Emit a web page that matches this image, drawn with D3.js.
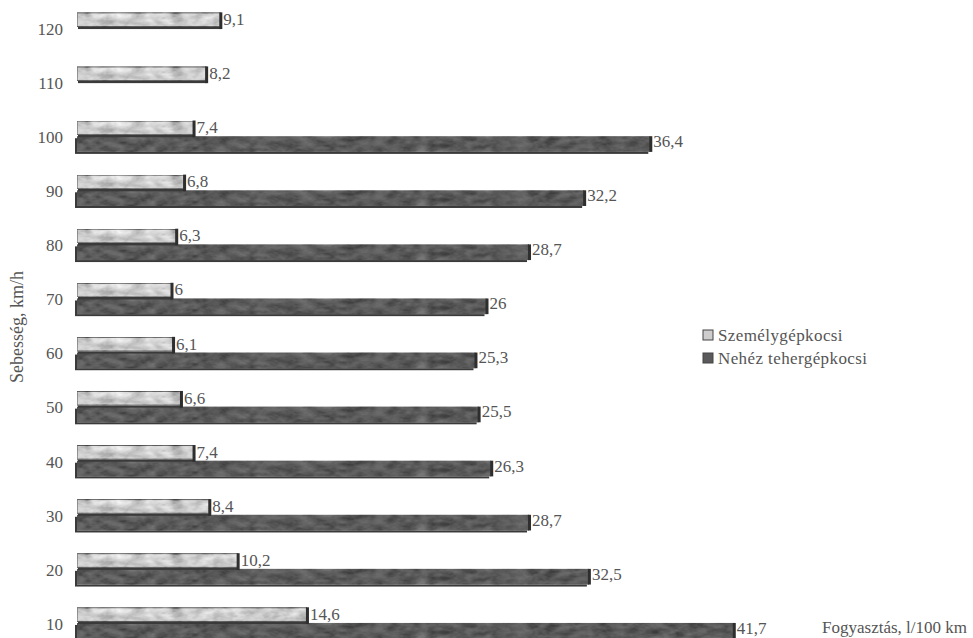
<!DOCTYPE html>
<html>
<head>
<meta charset="utf-8">
<script src="https://cdn.jsdelivr.net/npm/d3@7"></script>
<style>
  body { margin: 0; background: #fff; }
  text { font-family: "Liberation Serif", "DejaVu Serif", serif; fill: #555; }
</style>
</head>
<body>
<div id="chart"></div>
<script>
// adatok
const sebesseg = [120, 110, 100, 90, 80, 70, 60, 50, 40, 30, 20, 10];
const szemely = [9.1, 8.2, 7.4, 6.8, 6.3, 6, 6.1, 6.6, 7.4, 8.4, 10.2, 14.6];
const nehez = [null, null, 36.4, 32.2, 28.7, 26, 25.3, 25.5, 26.3, 28.7, 32.5, 41.7];
const sorozatok = ['Személygépkocsi', 'Nehéz tehergépkocsi'];

const width = 973, height = 638;

const svg = d3.select('#chart')
  .append('svg')
  .attr('width', width)
  .attr('height', height);

// textúra a "márványos" oszlopokhoz
const defs = svg.append('defs');
const f = defs.append('filter').attr('id', 'marble')
  .attr('x', 0).attr('y', 0).attr('width', 1).attr('height', 1);
f.append('feTurbulence')
  .attr('type', 'fractalNoise')
  .attr('baseFrequency', '0.07 0.14')
  .attr('numOctaves', 3)
  .attr('seed', 7)
  .attr('result', 'noise');
f.append('feColorMatrix')
  .attr('in', 'noise')
  .attr('type', 'matrix')
  .attr('values', '0.6 0.6 0.6 0 -0.4  0.6 0.6 0.6 0 -0.4  0.6 0.6 0.6 0 -0.4  0 0 0 0 0.9')
  .attr('result', 'gray');
f.append('feComposite')
  .attr('in', 'gray').attr('in2', 'SourceGraphic')
  .attr('operator', 'in').attr('result', 'tex');
f.append('feBlend')
  .attr('in', 'tex').attr('in2', 'SourceGraphic')
  .attr('mode', 'overlay');

const x = d3.scaleLinear().domain([0, 45]).range([77, 77 + 45 * 15.75]);

const y = d3.scaleBand()
  .domain(sebesseg)
  .range([1, 650])
  .paddingInner(0.42)
  .paddingOuter(0.21);

const ySub = d3.scaleBand()
  .domain(sorozatok)
  .range([0, y.bandwidth()]);

const rows = sebesseg.map((s, i) => ({ s: s, vals: [szemely[i], nehez[i]] }));

const fmt = v => String(v).replace('.', ',');

const group = svg.selectAll('g.row')
  .data(rows)
  .enter()
  .append('g')
  .attr('class', 'row')
  .attr('transform', d => `translate(0,${y(d.s)})`);

// nehéz tehergépkocsi: árnyék balra-lent
group.filter(d => d.vals[1] != null)
  .append('rect')
  .attr('x', x(0) - 2)
  .attr('y', ySub(sorozatok[1]) + 2)
  .attr('width', d => x(d.vals[1]) - x(0))
  .attr('height', ySub.bandwidth())
  .attr('fill', '#3a3a3a');

group.filter(d => d.vals[1] != null)
  .append('rect')
  .attr('x', x(0))
  .attr('y', ySub(sorozatok[1]))
  .attr('width', d => x(d.vals[1]) - x(0))
  .attr('height', ySub.bandwidth())
  .attr('fill', '#5a5a5a')
  .attr('filter', 'url(#marble)');

group.filter(d => d.vals[1] != null)
  .append('rect')
  .attr('x', d => x(d.vals[1]) - 1)
  .attr('y', ySub(sorozatok[1]))
  .attr('width', 3)
  .attr('height', ySub.bandwidth())
  .attr('fill', '#2e2e2e');

// személygépkocsi
group.append('rect')
  .attr('x', x(0) + 1)
  .attr('y', ySub(sorozatok[0]) + 2)
  .attr('width', d => x(d.vals[0]) - x(0))
  .attr('height', ySub.bandwidth() - 1)
  .attr('fill', '#3a3a3a');

group.append('rect')
  .attr('x', x(0))
  .attr('y', ySub(sorozatok[0]) + 0.5)
  .attr('width', d => x(d.vals[0]) - x(0))
  .attr('height', ySub.bandwidth() - 2)
  .attr('fill', '#cdcdcd')
  .attr('stroke', '#555')
  .attr('stroke-width', 1)
  .attr('filter', 'url(#marble)');

group.append('rect')
  .attr('x', d => x(d.vals[0]) - 1)
  .attr('y', ySub(sorozatok[0]))
  .attr('width', 3)
  .attr('height', ySub.bandwidth() + 1)
  .attr('fill', '#2e2e2e');

// értékcímkék
group.append('text')
  .attr('x', d => x(d.vals[0]) + 3)
  .attr('y', ySub(sorozatok[0]) + ySub.bandwidth() - 3)
  .style('font-size', '17px')
  .text(d => fmt(d.vals[0]));

group.filter(d => d.vals[1] != null)
  .append('text')
  .attr('x', d => x(d.vals[1]) + 3)
  .attr('y', ySub(sorozatok[1]) + ySub.bandwidth() / 2 + 3)
  .style('font-size', '17px')
  .text(d => fmt(d.vals[1]));

// kategória tengely
const yAxis = svg.append('g')
  .attr('transform', 'translate(63,0)')
  .call(d3.axisLeft(y).tickSize(0).tickPadding(0));
yAxis.select('.domain').remove();
yAxis.selectAll('text')
  .attr('dy', '0.4em')
  .style('font-size', '17px')
  .style('font-family', '"Liberation Serif", serif')
  .attr('fill', '#555');

// tengelycímek
svg.append('text')
  .attr('transform', 'translate(23,327) rotate(-90)')
  .attr('text-anchor', 'middle')
  .style('font-size', '18px')
  .text('Sebesség, km/h');

svg.append('text')
  .attr('x', 967)
  .attr('y', 633)
  .attr('text-anchor', 'end')
  .style('font-size', '17px')
  .text('Fogyasztás, l/100 km');

// jelmagyarázat
const legend = svg.append('g').attr('transform', 'translate(703,330)');
const legendColors = ['#cdcdcd', '#5a5a5a'];
sorozatok.forEach((s, i) => {
  const g = legend.append('g').attr('transform', `translate(0,${i * 23})`);
  g.append('rect')
    .attr('width', 10).attr('height', 10)
    .attr('fill', legendColors[i])
    .attr('stroke', '#444');
  g.append('text')
    .attr('x', 15)
    .attr('y', 11)
    .style('font-size', '17px')
    .style('letter-spacing', '0.4px')
    .text(s);
});
</script>
</body>
</html>
